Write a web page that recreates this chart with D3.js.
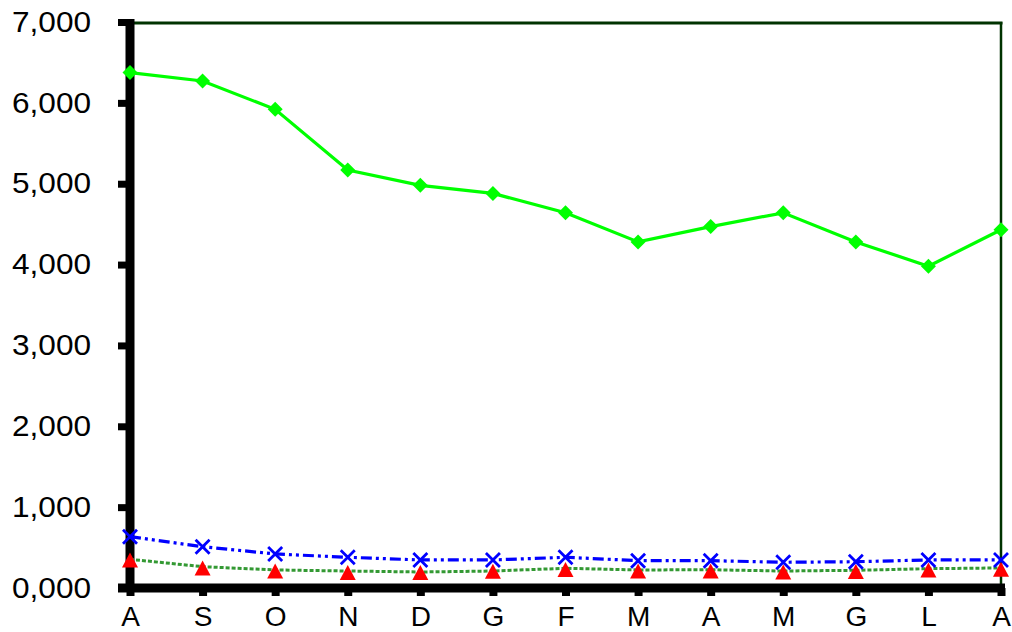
<!DOCTYPE html>
<html><head><meta charset="utf-8">
<script src="https://cdn.jsdelivr.net/npm/d3@7"></script>
<style>body{margin:0;background:#fff}svg{display:block}</style></head>
<body><svg id="c" width="1012" height="632"></svg>
<script>
const categories = ["A","S","O","N","D","G","F","M","A","M","G","L","A"];
const seriesGreen  = [6374,6270,5920,5170,4980,4880,4640,4280,4470,4640,4280,3980,4430];
const seriesBlue   = [635,511,421,380,347,347,380,338,338,318,325,347,347];
const seriesDashed = [355,264,223,210,198,210,244,223,226,210,219,239,248];
const seriesRed    = [347,248,210,192,192,207,229,210,210,198,204,223,231];
const yTicks = [0,1000,2000,3000,4000,5000,6000,7000];
const yTickLabels = ["0,000","1,000","2,000","3,000","4,000","5,000","6,000","7,000"];

const svg = d3.select("#c");
const mLeft = 130, mRight = 1001, mTop = 22, mBottom = 588;
const idx = categories.map((d,i)=>i);
const x = d3.scalePoint().domain(idx).range([mLeft, mRight]);
const y = d3.scaleLinear().domain([0,7000]).range([mBottom, mTop]);

// frame (top/right) dark green
svg.append("line").attr("x1",mLeft).attr("x2",mRight+1.5).attr("y1",mTop+1).attr("y2",mTop+1)
  .attr("stroke","#003300").attr("stroke-width",3);
svg.append("line").attr("x1",mRight).attr("x2",mRight).attr("y1",mTop).attr("y2",mBottom)
  .attr("stroke","#003300").attr("stroke-width",2.5);

// Y axis
const yAxis = d3.axisLeft(y).tickValues(yTicks).tickFormat((d,i)=>yTickLabels[i])
  .tickSize(12).tickPadding(27).tickSizeOuter(0);
const gy = svg.append("g").attr("transform",`translate(${mLeft},0)`).call(yAxis);
gy.select(".domain").remove();
gy.selectAll(".tick line").attr("stroke","#000").attr("stroke-width",7);
gy.selectAll(".tick text").attr("font-family","'Liberation Sans', Arial, sans-serif")
  .attr("font-size",29).attr("fill","#000")
  .attr("textLength",79).attr("lengthAdjust","spacingAndGlyphs");
svg.append("line").attr("x1",mLeft).attr("x2",mLeft).attr("y1",mTop-3).attr("y2",mBottom+4)
  .attr("stroke","#000").attr("stroke-width",9);

// X axis
const xAxis = d3.axisBottom(x).tickFormat(i=>categories[i]).tickSize(8).tickPadding(10).tickSizeOuter(0);
const gx = svg.append("g").attr("transform",`translate(0,${mBottom})`).call(xAxis);
gx.select(".domain").remove();
gx.selectAll(".tick line").attr("stroke","#000").attr("stroke-width",8);
gx.selectAll(".tick text").attr("font-family","'Liberation Sans', Arial, sans-serif")
  .attr("font-size",28).attr("fill","#000");
svg.append("line").attr("x1",118).attr("x2",1005).attr("y1",mBottom).attr("y2",mBottom)
  .attr("stroke","#000").attr("stroke-width",9);

const line = d3.line().x((d,i)=>x(i)).y(d=>y(d));

// dashed green series
svg.append("path").datum(seriesDashed).attr("d",line).attr("fill","none")
  .attr("stroke","#339933").attr("stroke-width",3).attr("stroke-dasharray","4,2");

// red triangles
svg.append("g").selectAll("path").data(seriesRed).join("path")
  .attr("transform",(d,i)=>`translate(${x(i)},${y(d)})`)
  .attr("d","M0,-7.5L8,7.5L-8,7.5Z").attr("fill","#ff0000");

// blue dash-dot-dot
svg.append("path").datum(seriesBlue).attr("d",line).attr("fill","none")
  .attr("stroke","#0000ff").attr("stroke-width",3.2).attr("stroke-dasharray","11,4,3,4,3,4");
svg.append("g").selectAll("path").data(seriesBlue).join("path")
  .attr("transform",(d,i)=>`translate(${x(i)},${y(d)})`)
  .attr("d","M-7,-7L7,7M-7,7L7,-7").attr("stroke","#0000ff")
  .attr("stroke-width",2.8).attr("fill","none");

// bright green
svg.append("path").datum(seriesGreen).attr("d",line).attr("fill","none")
  .attr("stroke","#00ff00").attr("stroke-width",3.2);
svg.append("g").selectAll("path").data(seriesGreen).join("path")
  .attr("transform",(d,i)=>`translate(${x(i)},${y(d)})`)
  .attr("d","M0,-7.5L7.5,0L0,7.5L-7.5,0Z").attr("fill","#00ff00");
</script></body></html>
